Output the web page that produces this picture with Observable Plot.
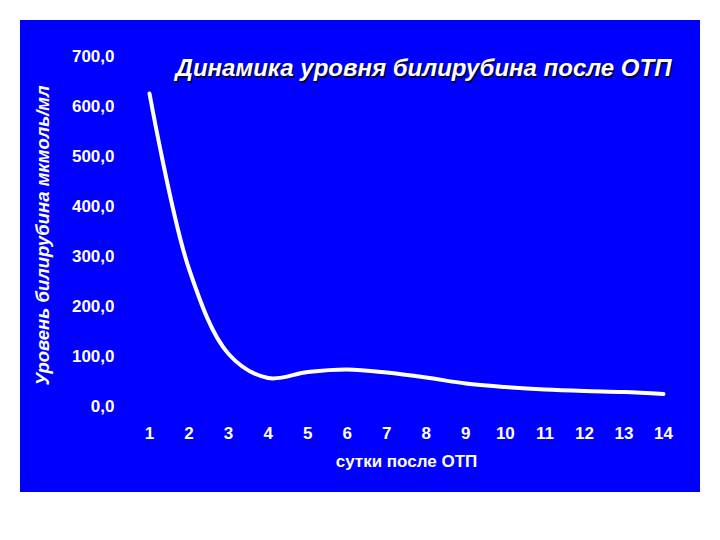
<!DOCTYPE html>
<html>
<head>
<meta charset="utf-8">
<script src="https://cdn.jsdelivr.net/npm/d3@7"></script>
<script src="https://cdn.jsdelivr.net/npm/@observablehq/plot@0.6"></script>
<style>
  html, body { margin: 0; padding: 0; background: #ffffff; }
  #wrap { position: absolute; left: 20px; top: 20px; width: 680px; height: 472px; background: #0000ff; }
  svg { display: block; }
</style>
</head>
<body>
<div id="wrap"></div>
<script>
const days = [1, 2, 3, 4, 5, 6, 7, 8, 9, 10, 11, 12, 13, 14];
const bilirubin = [626, 275, 105, 57, 69, 74, 68, 58, 46, 39, 34, 31, 29, 25];
const yTicks = [0, 100, 200, 300, 400, 500, 600, 700];
const titleText = "Динамика уровня билирубина после ОТП";
const xLabel = "сутки после ОТП";
const yLabel = "Уровень билирубина мкмоль/мл";

const data = days.map((d, i) => ({day: d, value: bilirubin[i]}));

const chart = Plot.plot({
  width: 680,
  height: 472,
  marginLeft: 129,
  marginRight: 37,
  marginTop: 36,
  marginBottom: 86,
  style: {background: "#0000ff", color: "#ffffff", fontFamily: "'Liberation Sans', Arial, sans-serif", fontWeight: "bold", fontSize: "17px"},
  x: {domain: [1, 14]},
  y: {domain: [0, 700]},
  marks: [
    Plot.axisY({ticks: yTicks, tickSize: 0, tickPadding: 35, tickFormat: d => d.toFixed(1).replace(".", ","),
      label: null, fontSize: 17, fill: "#ffffff"}),
    Plot.axisX({ticks: days, tickSize: 0, tickPadding: 20, tickFormat: d => String(d),
      label: xLabel, labelAnchor: "center", labelArrow: "none", labelOffset: 60, fontSize: 17, fill: "#ffffff"}),
    Plot.text([yLabel], {frameAnchor: "left", dx: -106, dy: 4, rotate: -90, textAnchor: "middle", lineAnchor: "middle",
      fill: "#ffffff", fontSize: 18.5, fontStyle: "italic", fontWeight: "bold"}),
    Plot.line(data, {x: "day", y: "value", curve: "catmull-rom", stroke: "#ffffff", strokeWidth: 4, strokeLinecap: "round"}),
    Plot.text([titleText], {frameAnchor: "top", dx: 18.5, dy: 13.5, lineAnchor: "middle", fill: "#000040",
      fontSize: 24, fontStyle: "italic", fontWeight: "bold"}),
    Plot.text([titleText], {frameAnchor: "top", dx: 17, dy: 12, lineAnchor: "middle", fill: "#ffffff",
      fontSize: 24, fontStyle: "italic", fontWeight: "bold"})
  ]
});
document.getElementById("wrap").appendChild(chart);
</script>
</body>
</html>
